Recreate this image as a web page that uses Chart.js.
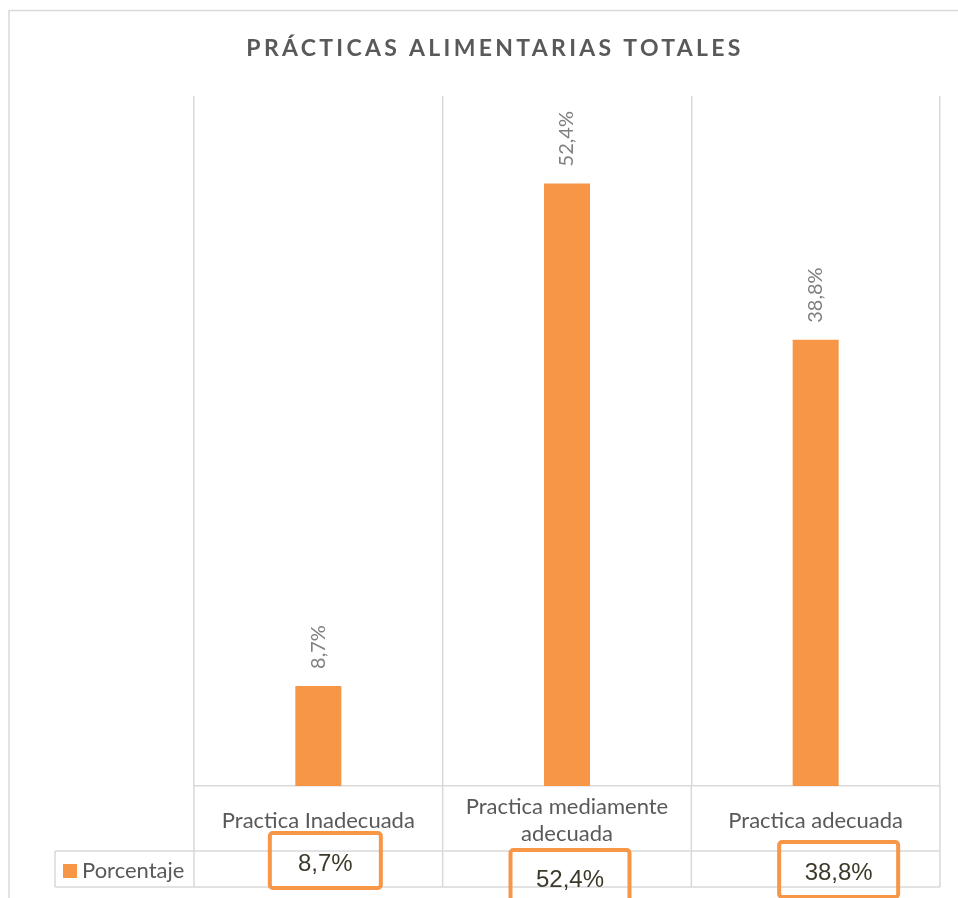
<!DOCTYPE html>
<html>
<head>
<meta charset="utf-8">
<script src="https://cdn.jsdelivr.net/npm/chart.js@4.4.1/dist/chart.umd.min.js"></script>
<style>
  html, body { margin: 0; padding: 0; background: #fff; overflow: hidden; }
  #wrap { position: relative; width: 958px; height: 898px; }
</style>
</head>
<body>
<div id="wrap"><canvas id="grafico" width="958" height="898"></canvas></div>
<script>
// datos
const titulo = "PRÁCTICAS ALIMENTARIAS TOTALES";
const categorias = [["Practica Inadecuada"], ["Practica mediamente", "adecuada"], ["Practica adecuada"]];
const serieNombre = "Porcentaje";
const porcentajes = [8.7, 52.4, 38.8];

const naranja = "#F79646";
const gris = "#595959";
const linea = "#d9d9d9";

// recuadros naranjas de la tabla (desplazamiento respecto al centro de la categoria)
const recuadros = [
  { dx: 7, w: 111, top: 833, bottom: 888 },
  { dx: 3, w: 119, top: 850, bottom: 902 },
  { dx: 23, w: 119, top: 842, bottom: 897 }
];

const fmt = (v) => v.toFixed(1).replace(".", ",") + "%";

// marco, titulo, etiquetas y tabla de datos
const extras = {
  id: "extras",
  beforeDraw(chart) {
    const ctx = chart.ctx;
    ctx.save();
    ctx.strokeStyle = linea;
    ctx.lineWidth = 1.5;
    ctx.beginPath();
    ctx.moveTo(9, 898);
    ctx.lineTo(9, 10.5);
    ctx.lineTo(958, 10.5);
    ctx.stroke();
    ctx.restore();
  },
  afterDraw(chart) {
    const ctx = chart.ctx;
    const x = chart.scales.x;
    const area = chart.chartArea;

    // titulo
    ctx.save();
    ctx.font = "bold 23px Lato";
    ctx.fillStyle = gris;
    ctx.textAlign = "center";
    ctx.textBaseline = "middle";
    if ("letterSpacing" in ctx) ctx.letterSpacing = "3.3px";
    ctx.fillText(titulo, 495, 49);
    ctx.restore();

    // etiquetas de datos giradas
    const meta = chart.getDatasetMeta(0);
    ctx.save();
    ctx.font = "20px Lato";
    ctx.fillStyle = "#7f7f7f";
    ctx.textAlign = "left";
    ctx.textBaseline = "middle";
    meta.data.forEach((bar, i) => {
      ctx.save();
      ctx.translate(bar.x, bar.y - 17);
      ctx.rotate(-Math.PI / 2);
      ctx.fillText(fmt(porcentajes[i]), 0, 0);
      ctx.restore();
    });
    ctx.restore();

    // tabla de datos
    const fila1 = area.bottom;
    const fila2 = 851;
    const fila3 = 887;
    const celdaIzq = 55;
    const paso = (x.right - x.left) / categorias.length;

    ctx.save();
    ctx.strokeStyle = linea;
    ctx.lineWidth = 1.5;
    ctx.beginPath();
    for (let i = 0; i <= categorias.length; i++) {
      const px = x.left + i * paso;
      ctx.moveTo(px, fila1);
      ctx.lineTo(px, fila3);
    }
    ctx.moveTo(celdaIzq, fila2);
    ctx.lineTo(x.right, fila2);
    ctx.moveTo(celdaIzq, fila3);
    ctx.lineTo(x.right, fila3);
    ctx.moveTo(celdaIzq, fila2);
    ctx.lineTo(celdaIzq, fila3);
    ctx.stroke();

    // leyenda
    ctx.fillStyle = naranja;
    ctx.fillRect(63, 864, 14, 14);
    ctx.fillStyle = gris;
    ctx.font = "22px Lato";
    ctx.textAlign = "left";
    ctx.textBaseline = "middle";
    ctx.fillText(serieNombre, 82, 871);

    // valores con recuadro
    ctx.font = "24px 'Liberation Sans'";
    ctx.textAlign = "center";
    porcentajes.forEach((v, i) => {
      const r = recuadros[i];
      const cx = x.getPixelForTick(i) + r.dx;
      ctx.strokeStyle = naranja;
      ctx.lineWidth = 4;
      ctx.beginPath();
      ctx.roundRect(cx - r.w / 2, r.top, r.w, r.bottom - r.top, 3);
      ctx.stroke();
      ctx.fillStyle = "#3d3a2b";
      ctx.fillText(fmt(v), cx, (r.top + r.bottom) / 2 + 4);
    });
    ctx.restore();
  }
};

new Chart(document.getElementById("grafico"), {
  type: "bar",
  data: {
    labels: categorias,
    datasets: [{
      label: serieNombre,
      data: porcentajes,
      backgroundColor: naranja,
      borderWidth: 0,
      barPercentage: 0.185,
      categoryPercentage: 1
    }]
  },
  options: {
    responsive: false,
    animation: false,
    layout: { padding: { left: 194, right: 18, top: 96, bottom: 0 } },
    plugins: {
      legend: { display: false },
      title: { display: false },
      tooltip: { enabled: false }
    },
    scales: {
      y: { display: false, min: 0, max: 60 },
      x: {
        afterFit: (s) => { s.height = 112; },
        grid: { offset: true, color: linea, lineWidth: 1.5, drawTicks: false },
        border: { color: linea, width: 1.5 },
        ticks: {
          color: gris,
          font: { family: "Lato", size: 22, lineHeight: 1.23 },
          crossAlign: "center",
          padding: 21,
          maxRotation: 0
        }
      }
    }
  },
  plugins: [extras]
});
</script>
</body>
</html>
